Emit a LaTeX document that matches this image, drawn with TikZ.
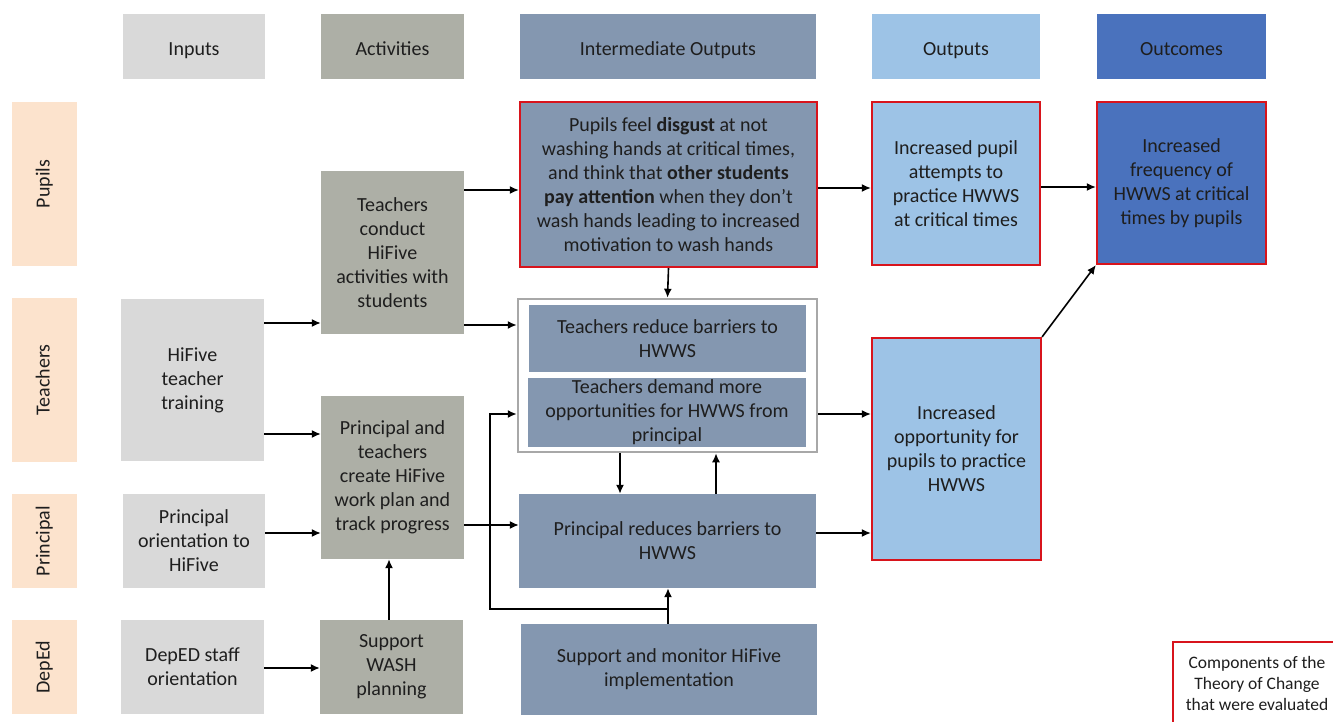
\documentclass[tikz,border=0pt]{standalone}
\usepackage{fontspec}
\setmainfont{Carlito}
\usetikzlibrary{arrows.meta}
\definecolor{cinput}{HTML}{D9D9D9}
\definecolor{cact}{HTML}{ADAFA6}
\definecolor{cio}{HTML}{8497B0}
\definecolor{cout}{HTML}{9DC3E6}
\definecolor{coutc}{HTML}{4A72BD}
\definecolor{cpeach}{HTML}{FCE3CD}
\definecolor{cred}{HTML}{D8141C}
\definecolor{cgrp}{HTML}{A8A8A8}
\definecolor{ctext}{HTML}{1E1E1E}
\tikzset{
  box/.style={rectangle, inner sep=0pt, align=center, text=ctext,
    font=\fontsize{20}{24}\selectfont},
  inbox/.style={box, fill=cinput},
  actbox/.style={box, fill=cact},
  iobox/.style={box, fill=cio},
  outbox/.style={box, fill=cout},
  outcbox/.style={box, fill=coutc},
  hdr/.style={text height=19pt, text depth=0pt},
  rowlab/.style={box, fill=cpeach, rotate=90, text height=15pt, text depth=5pt},
  eval/.style={draw=cred, line width=2.2pt},
  arr/.style={draw=black, line width=1.6pt, -{Latex[length=9pt,width=8pt]}},
}
\begin{document}
\begin{tikzpicture}[x=1pt,y=-1pt]
\useasboundingbox (0,0) rectangle (1333,722);
% headers
\node[inbox, hdr, minimum width=142, minimum height=65] (hin) at (194,46.5) {Inputs};
\node[actbox, hdr, minimum width=143, minimum height=65] (hact) at (392.5,46.5) {Activities};
\node[iobox, hdr, minimum width=296, minimum height=65] (hio) at (668,46.5) {Intermediate Outputs};
\node[outbox, hdr, minimum width=168, minimum height=65] (hout) at (956,46.5) {Outputs};
\node[outcbox, hdr, minimum width=169, minimum height=65] (houtc) at (1181.5,46.5) {Outcomes};
% row labels
\node[rowlab, minimum width=164, minimum height=65] (rpup) at (44.5,184) {Pupils};
\node[rowlab, minimum width=164, minimum height=65] (rtea) at (44.5,380) {Teachers};
\node[rowlab, minimum width=94, minimum height=65] (rpri) at (44.5,541) {Principal};
\node[rowlab, minimum width=94, minimum height=65] (rdep) at (44.5,667) {DepEd};
% inputs
\node[inbox, minimum width=143, minimum height=162] (training) at (192.5,380) {HiFive\\teacher\\training};
\node[inbox, minimum width=142, minimum height=94] (porient) at (194,541) {Principal\\orientation to\\HiFive};
\node[inbox, minimum width=143, minimum height=94] (deped) at (192.5,667) {DepED staff\\orientation};
% activities
\node[actbox, minimum width=143, minimum height=163] (tconduct) at (392.5,252.5) {Teachers\\conduct\\HiFive\\activities with\\students};
\node[actbox, minimum width=143, minimum height=163] (pplan) at (392.5,477.5) {Principal and\\teachers\\create HiFive\\work plan and\\track progress};
\node[actbox, minimum width=143, minimum height=94] (wash) at (391.5,667) {Support\\WASH\\planning};
% intermediate outputs
\node[iobox, eval, minimum width=297, minimum height=165] (disgust) at (668.5,184.5) {Pupils feel \textbf{disgust} at not\\washing hands at critical times,\\and think that \textbf{other students}\\\textbf{pay attention} when they don’t\\wash hands leading to increased\\motivation to wash hands};
\node[box, draw=cgrp, line width=2.5pt, minimum width=299, minimum height=153] (group) at (667.5,375.5) {};
\node[iobox, minimum width=277, minimum height=67] (treduce) at (667.5,338.5) {Teachers reduce barriers to\\HWWS};
\node[iobox, minimum width=278, minimum height=69] (tdemand) at (667,412.5) {Teachers demand more\\opportunities for HWWS from\\principal};
\node[iobox, minimum width=297, minimum height=94] (preduce) at (667.5,541) {Principal reduces barriers to\\HWWS};
\node[iobox, minimum width=296, minimum height=91] (support) at (669,669.5) {Support and monitor HiFive\\implementation};
% outputs
\node[outbox, eval, minimum width=168, minimum height=163] (attempts) at (956,183.5) {Increased pupil\\attempts to\\practice HWWS\\at critical times};
\node[outbox, eval, minimum width=169, minimum height=222] (opport) at (956.5,449) {Increased\\opportunity for\\pupils to practice\\HWWS};
% outcomes
\node[outcbox, eval, minimum width=169, minimum height=162] (freq) at (1181.5,183) {Increased\\frequency of\\HWWS at critical\\times by pupils};
% legend
\node[box, eval, fill=white, minimum width=172, minimum height=88] (legend) at (1259,686) {};
\node[box, font=\fontsize{17.5}{21}\selectfont] (legendtxt) at (1257,683) {Components of the\\Theory of Change\\that were evaluated};
% connectors
\coordinate (loopx) at (490,609);
\draw[arr] (tconduct.east |- 0,190) -- (disgust.west |- 0,190);
\draw[arr] (tconduct.east |- 0,325) -- (group.west |- 0,325);
\draw[arr] (training.east |- 0,323) -- (tconduct.west |- 0,323);
\draw[arr] (training.east |- 0,434) -- (pplan.west |- 0,434);
\draw[arr] (porient.east |- 0,533) -- (pplan.west |- 0,533);
\draw[arr] (deped.east |- 0,668) -- (wash.west |- 0,668);
\draw[arr] (wash.north -| 389,0) -- (pplan.south -| 389,0);
\draw[arr] (pplan.east |- 0,525) -- (preduce.west |- 0,525);
\draw[arr] (disgust.south) -- (group.north);
\draw[arr] (group.south -| 620,0) -- (preduce.north -| 620,0);
\draw[arr] (preduce.north -| 716,0) -- (group.south -| 716,0);
\draw[arr] (support.north -| 668,0) -- (preduce.south -| 668,0);
\draw[arr] (support.north -| 668,0) -- (668,609) -- (loopx) |- (group.west |- 0,414);
\draw[arr] (disgust.east |- 0,188) -- (attempts.west |- 0,188);
\draw[arr] (group.east |- 0,414) -- (opport.west |- 0,414);
\draw[arr] (preduce.east |- 0,533) -- (opport.west |- 0,533);
\draw[arr] (attempts.east |- 0,187) -- (freq.west |- 0,187);
\draw[arr] (opport.north east) -- (freq.south west);
\end{tikzpicture}
\end{document}
